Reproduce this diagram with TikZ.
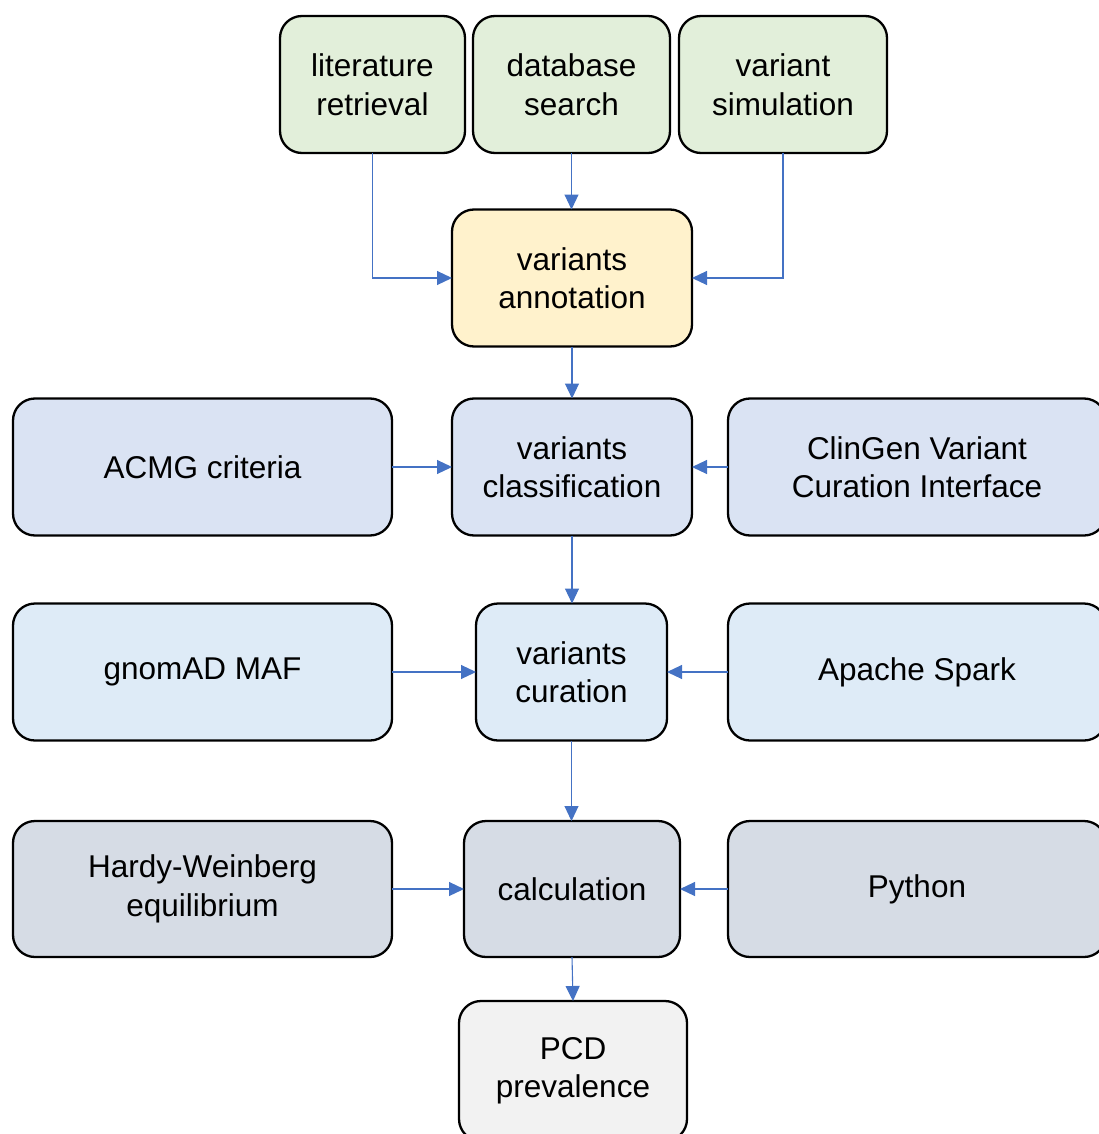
\documentclass[tikz,border=0pt]{standalone}
\usepackage{fontspec}
\setmainfont{Liberation Sans}
\usetikzlibrary{arrows.meta}
\definecolor{cgreen}{HTML}{E2EFDA}
\definecolor{cyellow}{HTML}{FFF2CC}
\definecolor{cblueA}{HTML}{DAE3F3}
\definecolor{cblueB}{HTML}{DEEBF7}
\definecolor{cgrayblue}{HTML}{D6DCE5}
\definecolor{cgray}{HTML}{F2F2F2}
\definecolor{carrow}{HTML}{4472C4}
\newcommand{\boxfont}{\fontsize{31.5}{38.5}\selectfont}
\begin{document}
\begin{tikzpicture}[x=1pt,y=-1pt,
  box/.style={draw=black, line width=2.3pt, rounded corners=22pt, align=center,
    inner sep=0pt, outer sep=0pt, font=\boxfont, text=black},
  conn/.style={draw=carrow, line width=1.1pt, -{Triangle[length=15pt,width=14pt]}}]
\useasboundingbox (0,0) rectangle (1098,1134);
% top row
\node[box, fill=cgreen, minimum width=185pt, minimum height=137pt] (lit) at (372.5,84.5) {literature\\retrieval};
\node[box, fill=cgreen, minimum width=197pt, minimum height=137pt] (db) at (571.5,84.5) {database\\search};
\node[box, fill=cgreen, minimum width=208pt, minimum height=137pt] (sim) at (783,84.5) {variant\\simulation};
% annotation
\node[box, fill=cyellow, minimum width=240pt, minimum height=137pt] (ann) at (572,278) {variants\\annotation};
% classification row
\node[box, fill=cblueA, minimum width=240pt, minimum height=137pt] (cls) at (572,467) {variants\\classification};
\node[box, fill=cblueA, minimum width=379pt, minimum height=137pt] (acmg) at (202.5,467) {ACMG criteria};
\node[box, fill=cblueA, minimum width=378pt, minimum height=137pt] (clin) at (917,467) {ClinGen Variant\\Curation Interface};
% curation row
\node[box, fill=cblueB, minimum width=191pt, minimum height=137pt] (cur) at (571.5,672) {variants\\curation};
\node[box, fill=cblueB, minimum width=379pt, minimum height=137pt] (gnom) at (202.5,672) {gnomAD MAF};
\node[box, fill=cblueB, minimum width=378pt, minimum height=137pt] (spark) at (917,672) {Apache Spark};
% calculation row
\node[box, fill=cgrayblue, minimum width=216pt, minimum height=136pt] (calc) at (572,889) {calculation};
\node[box, fill=cgrayblue, minimum width=379pt, minimum height=136pt] (hw) at (202.5,889) {Hardy-Weinberg\\equilibrium};
\node[box, fill=cgrayblue, minimum width=378pt, minimum height=136pt] (py) at (917,889) {Python};
% result
\node[box, fill=cgray, minimum width=228pt, minimum height=140pt] (pcd) at (573,1071) {PCD\\prevalence};
% connectors
\draw[conn] (lit.south) |- (ann.west);
\draw[conn] (db.south) -- (db.south |- ann.north);
\draw[conn] (sim.south) |- (ann.east);
\draw[conn] (ann.south) -- (cls.north);
\draw[conn] (acmg.east) -- (cls.west);
\draw[conn] (clin.west) -- (cls.east);
\draw[conn] (cls.south) -- (cls.south |- cur.north);
\draw[conn] (gnom.east) -- (cur.west);
\draw[conn] (spark.west) -- (cur.east);
\draw[conn] (cur.south) -- (cur.south |- calc.north);
\draw[conn] (hw.east) -- (calc.west);
\draw[conn] (py.west) -- (calc.east);
\draw[conn] (calc.south) -- (pcd.north);
\end{tikzpicture}
\end{document}
